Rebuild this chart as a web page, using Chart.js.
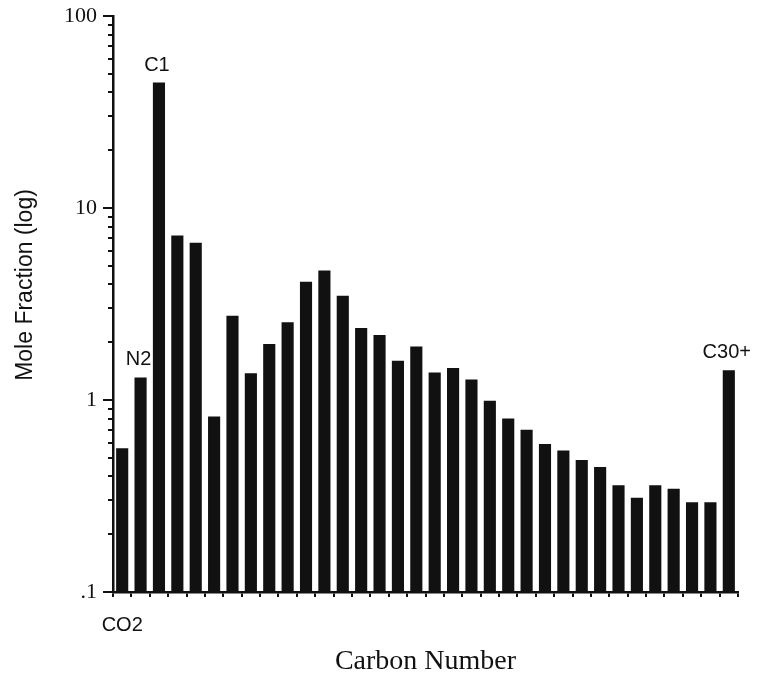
<!DOCTYPE html>
<html>
<head>
<meta charset="utf-8">
<title>Mole Fraction by Carbon Number</title>
<script src="https://cdn.jsdelivr.net/npm/chart.js@4/dist/chart.umd.min.js"></script>
<style>
    body { margin: 0; background: #fff; }
    canvas { display: block; }
</style>
</head>
<body>
<canvas id="chartMole" width="759" height="676"></canvas>
<script>
// Componentes (eixo x)
const categorias = ['CO2', 'N2', 'C1', 'C2', 'C3', 'iC4', 'nC4', 'iC5', 'nC5',
    'C6', 'C7', 'C8', 'C9', 'C10', 'C11', 'C12', 'C13', 'C14', 'C15', 'C16', 'C17',
    'C18', 'C19', 'C20', 'C21', 'C22', 'C23', 'C24', 'C25', 'C26', 'C27', 'C28', 'C29',
    'C30+'];

// Fração molar
const fracaoMolar = [0.56, 1.31, 45, 7.2, 6.6, 0.82, 2.75, 1.38, 1.96,
    2.54, 4.13, 4.73, 3.49, 2.37, 2.18, 1.60, 1.90, 1.39, 1.47, 1.28, 0.99,
    0.80, 0.70, 0.59, 0.545, 0.487, 0.448, 0.36, 0.31, 0.36, 0.345, 0.293, 0.293,
    1.43];

// Ticks do eixo y (log)
const ticksMaiores = [0.1, 1, 10, 100];
const rotulosMaiores = ['.1', '1', '10', '100'];
const ticksMenores = [0.2, 0.3, 0.4, 0.5, 0.6, 0.7, 0.8, 0.9,
    2, 3, 4, 5, 6, 7, 8, 9,
    20, 30, 40, 50, 60, 70, 80, 90];

// Barras com rótulo acima
const barrasRotuladas = ['N2', 'C1', 'C30+'];

const rotulosBarras = {
    id: 'rotulosBarras',
    afterDatasetsDraw(chart) {
        const ctx = chart.ctx;
        const meta = chart.getDatasetMeta(0);
        ctx.save();
        ctx.font = '20px "Liberation Sans", Arial, sans-serif';
        ctx.fillStyle = '#111';
        ctx.textAlign = 'center';
        ctx.textBaseline = 'alphabetic';
        barrasRotuladas.forEach(nome => {
            const i = categorias.indexOf(nome);
            const bar = meta.data[i];
            ctx.fillText(nome, bar.x - 2, bar.y - 12);
        });
        ctx.restore();
    }
};

const eixoY = {
    id: 'eixoY',
    afterDraw(chart) {
        const ctx = chart.ctx;
        const y = chart.scales.y;
        const left = chart.chartArea.left;
        ctx.save();
        // Ticks maiores mais longos
        ctx.strokeStyle = '#111';
        ctx.lineWidth = 2;
        ticksMaiores.forEach(v => {
            const py = y.getPixelForValue(v);
            ctx.beginPath();
            ctx.moveTo(left - 10, py);
            ctx.lineTo(left - 4, py);
            ctx.stroke();
        });
        // Título do eixo y
        ctx.font = '23px "Liberation Sans", Arial, sans-serif';
        ctx.fillStyle = '#111';
        ctx.textAlign = 'center';
        ctx.textBaseline = 'middle';
        ctx.translate(26, (chart.chartArea.top + chart.chartArea.bottom) / 2 - 19);
        ctx.rotate(-Math.PI / 2);
        ctx.fillText('Mole Fraction (log)', 0, 0);
        ctx.restore();
    }
};

const ctxMole = document.getElementById('chartMole').getContext('2d');
const chartMole = new Chart(ctxMole, {
    type: 'bar',
    data: {
        labels: categorias,
        datasets: [{
            data: fracaoMolar,
            backgroundColor: '#111',
            borderWidth: 0,
            barPercentage: 0.66,
            categoryPercentage: 1
        }]
    },
    options: {
        responsive: false,
        animation: false,
        layout: { padding: { left: 0, right: 21, top: 16, bottom: 0 } },
        plugins: {
            legend: { display: false },
            tooltip: { enabled: false }
        },
        scales: {
            x: {
                type: 'category',
                offset: true,
                afterFit(scale) {
                    scale.height = 84;
                    scale.paddingLeft = 0;
                    scale.paddingRight = 0;
                },
                border: { display: true, color: '#111', width: 2.5 },
                grid: {
                    display: true,
                    offset: true,
                    drawOnChartArea: false,
                    color: '#111',
                    lineWidth: 2,
                    tickLength: 5
                },
                ticks: {
                    autoSkip: false,
                    maxRotation: 0,
                    padding: 16,
                    color: '#111',
                    font: { family: '"Liberation Sans", Arial, sans-serif', size: 20 },
                    callback: (val, i) => i === 0 ? categorias[0] : ''
                },
                title: {
                    display: true,
                    text: 'Carbon Number',
                    color: '#111',
                    padding: { top: 0, bottom: 0 },
                    font: { family: '"Liberation Serif", "Times New Roman", serif', size: 28, lineHeight: 1 }
                }
            },
            y: {
                type: 'logarithmic',
                min: 0.1,
                max: 100,
                afterFit(scale) {
                    scale.width = 113;
                    scale.paddingTop = 0;
                    scale.paddingBottom = 0;
                },
                afterBuildTicks(scale) {
                    scale.ticks = ticksMaiores.concat(ticksMenores)
                        .sort((a, b) => a - b)
                        .map(v => ({ value: v }));
                },
                border: { display: true, color: '#111', width: 2.5 },
                grid: {
                    display: true,
                    drawOnChartArea: false,
                    color: '#111',
                    lineWidth: 2,
                    tickLength: 5
                },
                ticks: {
                    padding: 11,
                    color: '#111',
                    autoSkip: false,
                    font: { family: '"Liberation Serif", "Times New Roman", serif', size: 22 },
                    callback: (val) => {
                        const i = ticksMaiores.indexOf(val);
                        return i >= 0 ? rotulosMaiores[i] : '';
                    }
                }
            }
        }
    },
    plugins: [rotulosBarras, eixoY]
});
</script>
</body>
</html>
